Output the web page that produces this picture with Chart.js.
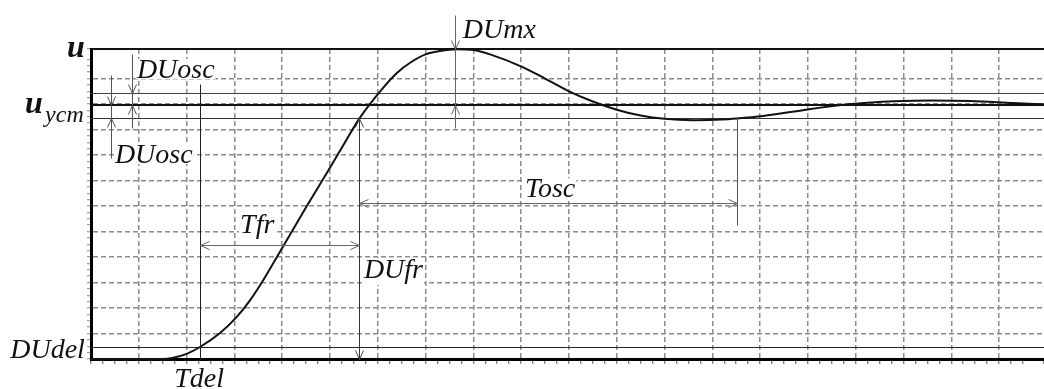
<!DOCTYPE html>
<html>
<head>
<meta charset="utf-8">
<script src="https://cdn.jsdelivr.net/npm/chart.js@4.4.1/dist/chart.umd.min.js"></script>
<style>
  html, body { margin: 0; padding: 0; background: #fff; }
  canvas { display: block; }
</style>
</head>
<body>
<canvas id="chart" width="1044" height="389"></canvas>
<script>
// step response u(t) (one grid cell = 1 unit)
const tValues = [0, 1.0, 1.5, 1.7, 2.0, 2.28, 2.7, 3.05, 3.33, 3.6, 4.0, 4.5, 5.0, 5.3, 5.61, 6.05, 6.4, 6.7, 7.0, 7.3, 7.65,
  8.0, 8.35, 9.02, 9.5, 9.98, 10.5, 11.0, 11.5, 12.0, 12.6, 13.2, 13.51, 14.06, 15.0, 15.8, 16.25, 16.8, 17.6, 18.4, 19.3, 19.94];
const uValues = [0, 0, 0, 0.04, 0.2, 0.47, 1.02, 1.65, 2.31, 3.08, 4.35, 5.95, 7.5, 8.45, 9.42, 10.5, 11.22, 11.65, 11.95, 12.08, 12.15,
  12.12, 11.95, 11.46, 11.0, 10.52, 10.1, 9.78, 9.55, 9.42, 9.37, 9.39, 9.43, 9.53, 9.79, 9.98, 10.05, 10.11, 10.14, 10.12, 10.04, 9.99];

// levels
const uMax = 12.16;
const uSteady = 9.95;
const uBandHigh = 10.45;
const uBandLow = 9.45;
const uDel = 0.47;

// times
const tDel = 2.28;
const tFrEnd = 5.61;
const tPeak = 7.62;
const tOscEnd = 13.51;

const xMax = 19.94;

// text labels: [text, x, y(baseline), font]
const labels = [
  ['u', -0.50, 11.84, 'bold italic 32px "Liberation Serif"'],
  ['u', -1.38, 9.65, 'bold italic 32px "Liberation Serif"'],
  ['ycm', -0.96, 9.29, 'italic 24px "Liberation Serif"'],
  ['DUosc', 0.96, 11.02, 'italic 28px "Liberation Serif"'],
  ['DUosc', 0.50, 7.69, 'italic 28px "Liberation Serif"'],
  ['DUmx', 7.78, 12.59, 'italic 28px "Liberation Serif"'],
  ['Tosc', 9.08, 6.35, 'italic 28px "Liberation Serif"'],
  ['Tfr', 3.12, 4.94, 'italic 28px "Liberation Serif"'],
  ['DUfr', 5.71, 3.18, 'italic 28px "Liberation Serif"'],
  ['DUdel', -1.69, 0.04, 'italic 28px "Liberation Serif"'],
  ['Tdel', 1.74, -1.10, 'italic 28px "Liberation Serif"']
];

function arrowHead(ctx, x, y, dir) {
  // open V, tip at (x, y)
  const L = 9, W = 4;
  ctx.beginPath();
  if (dir === 'down') { ctx.moveTo(x - W, y - L); ctx.lineTo(x, y); ctx.lineTo(x + W, y - L); }
  if (dir === 'up') { ctx.moveTo(x - W, y + L); ctx.lineTo(x, y); ctx.lineTo(x + W, y + L); }
  if (dir === 'left') { ctx.moveTo(x + L, y - W); ctx.lineTo(x, y); ctx.lineTo(x + L, y + W); }
  if (dir === 'right') { ctx.moveTo(x - L, y - W); ctx.lineTo(x, y); ctx.lineTo(x - L, y + W); }
  ctx.stroke();
}

const refLines = {
  id: 'refLines',
  beforeDatasetsDraw(chart) {
    const { ctx, scales: { x, y }, chartArea } = chart;
    const left = chartArea.left, right = chartArea.right;
    const hLine = (v, w, c) => {
      const py = Math.round(y.getPixelForValue(v)) + (w % 2 ? 0.5 : 0);
      ctx.lineWidth = w; ctx.strokeStyle = c;
      ctx.beginPath(); ctx.moveTo(left, py); ctx.lineTo(right, py); ctx.stroke();
    };
    ctx.save();
    hLine(uMax, 2, '#111');
    hLine(uBandHigh, 1, '#444');
    hLine(uSteady, 2, '#111');
    hLine(uBandLow, 1, '#333');
    hLine(uDel, 1, '#222');
    ctx.restore();
  },
  afterDatasetsDraw(chart) {
    const { ctx, scales: { x, y } } = chart;
    const px = v => Math.round(x.getPixelForValue(v)) + 0.5;
    const py = v => Math.round(y.getPixelForValue(v)) + 0.5;
    const vLine = (t, u1, u2, c) => {
      ctx.strokeStyle = c;
      ctx.beginPath(); ctx.moveTo(px(t), py(u1)); ctx.lineTo(px(t), py(u2)); ctx.stroke();
    };
    const hSeg = (u, t1, t2, c) => {
      ctx.strokeStyle = c;
      ctx.beginPath(); ctx.moveTo(px(t1), py(u)); ctx.lineTo(px(t2), py(u)); ctx.stroke();
    };
    ctx.save();
    ctx.lineWidth = 1;
    // Tdel
    vLine(tDel, 0, 10.8, '#222');
    // DUosc (upper and lower)
    vLine(0.86, 11.96, 9.06, '#555');
    ctx.strokeStyle = '#555';
    arrowHead(ctx, px(0.86), py(uBandHigh), 'down');
    arrowHead(ctx, px(0.86), py(uSteady), 'up');
    vLine(0.42, 11.14, 7.88, '#555');
    ctx.strokeStyle = '#555';
    arrowHead(ctx, px(0.42), py(uSteady), 'down');
    arrowHead(ctx, px(0.42), py(uBandLow), 'up');
    // DUmx
    vLine(tPeak, 13.49, 9.06, '#666');
    ctx.strokeStyle = '#666';
    arrowHead(ctx, px(tPeak), py(uMax), 'down');
    arrowHead(ctx, px(tPeak), py(uSteady), 'up');
    // DUfr
    vLine(tFrEnd, uBandLow, 0, '#333');
    ctx.strokeStyle = '#444';
    arrowHead(ctx, px(tFrEnd), py(uBandLow), 'up');
    arrowHead(ctx, px(tFrEnd), py(0), 'down');
    // Tfr
    hSeg(4.47, tDel, tFrEnd, '#666');
    ctx.strokeStyle = '#666';
    arrowHead(ctx, px(tDel), py(4.47), 'left');
    arrowHead(ctx, px(tFrEnd), py(4.47), 'right');
    // Tosc
    vLine(tOscEnd, uBandLow, 5.25, '#555');
    hSeg(6.12, tFrEnd, tOscEnd, '#666');
    ctx.strokeStyle = '#666';
    arrowHead(ctx, px(tFrEnd), py(6.12), 'left');
    arrowHead(ctx, px(tOscEnd), py(6.12), 'right');

    // labels
    ctx.textBaseline = 'alphabetic';
    ctx.textAlign = 'left';
    labels.forEach(([txt, tx, ty, font]) => {
      ctx.font = font;
      const lx = x.getPixelForValue(tx), ly = y.getPixelForValue(ty);
      const m = ctx.measureText(txt);
      ctx.fillStyle = '#fff';
      ctx.fillRect(lx - 1, ly - m.actualBoundingBoxAscent - 1, m.width + 2, m.actualBoundingBoxAscent + m.actualBoundingBoxDescent + 2);
      ctx.fillStyle = '#111';
      ctx.fillText(txt, lx, ly);
    });
    ctx.restore();
  }
};

const gridColor = ctx => (ctx.tick && ctx.tick.value > 0 && Math.abs(ctx.tick.value - Math.round(ctx.tick.value)) < 1e-6) ? '#8c8c8c' : 'rgba(0,0,0,0)';

new Chart(document.getElementById('chart'), {
  type: 'line',
  data: {
    datasets: [{
      data: tValues.map((t, i) => ({ x: t, y: uValues[i] })),
      borderColor: '#111',
      borderWidth: 2,
      pointRadius: 0,
      cubicInterpolationMode: 'monotone',
      fill: false,
      clip: 6
    }]
  },
  options: {
    responsive: false,
    animation: false,
    events: [],
    layout: { padding: { top: 49, left: 0, right: 0, bottom: 0 }, autoPadding: false },
    plugins: { legend: { display: false }, tooltip: { enabled: false } },
    scales: {
      x: {
        type: 'linear',
        min: 0,
        max: xMax,
        ticks: { display: false, stepSize: 0.25, autoSkip: false },
        grid: { color: gridColor, lineWidth: 1.5, tickColor: '#555', tickLength: 5, tickWidth: 1, tickBorderDash: [] },
        border: { display: true, color: '#000', width: 3, dash: [5, 3] },
        afterFit: s => { s.height = 30; }
      },
      y: {
        type: 'linear',
        min: 0,
        max: uMax,
        ticks: { display: false, stepSize: 0.25, autoSkip: false },
        grid: { color: gridColor, lineWidth: 1.5, tickColor: '#888', tickLength: 4, tickWidth: 1, tickBorderDash: [] },
        border: { display: true, color: '#000', width: 3, dash: [5, 3] },
        afterFit: s => { s.width = 91; }
      }
    }
  },
  plugins: [refLines]
});
</script>
</body>
</html>
